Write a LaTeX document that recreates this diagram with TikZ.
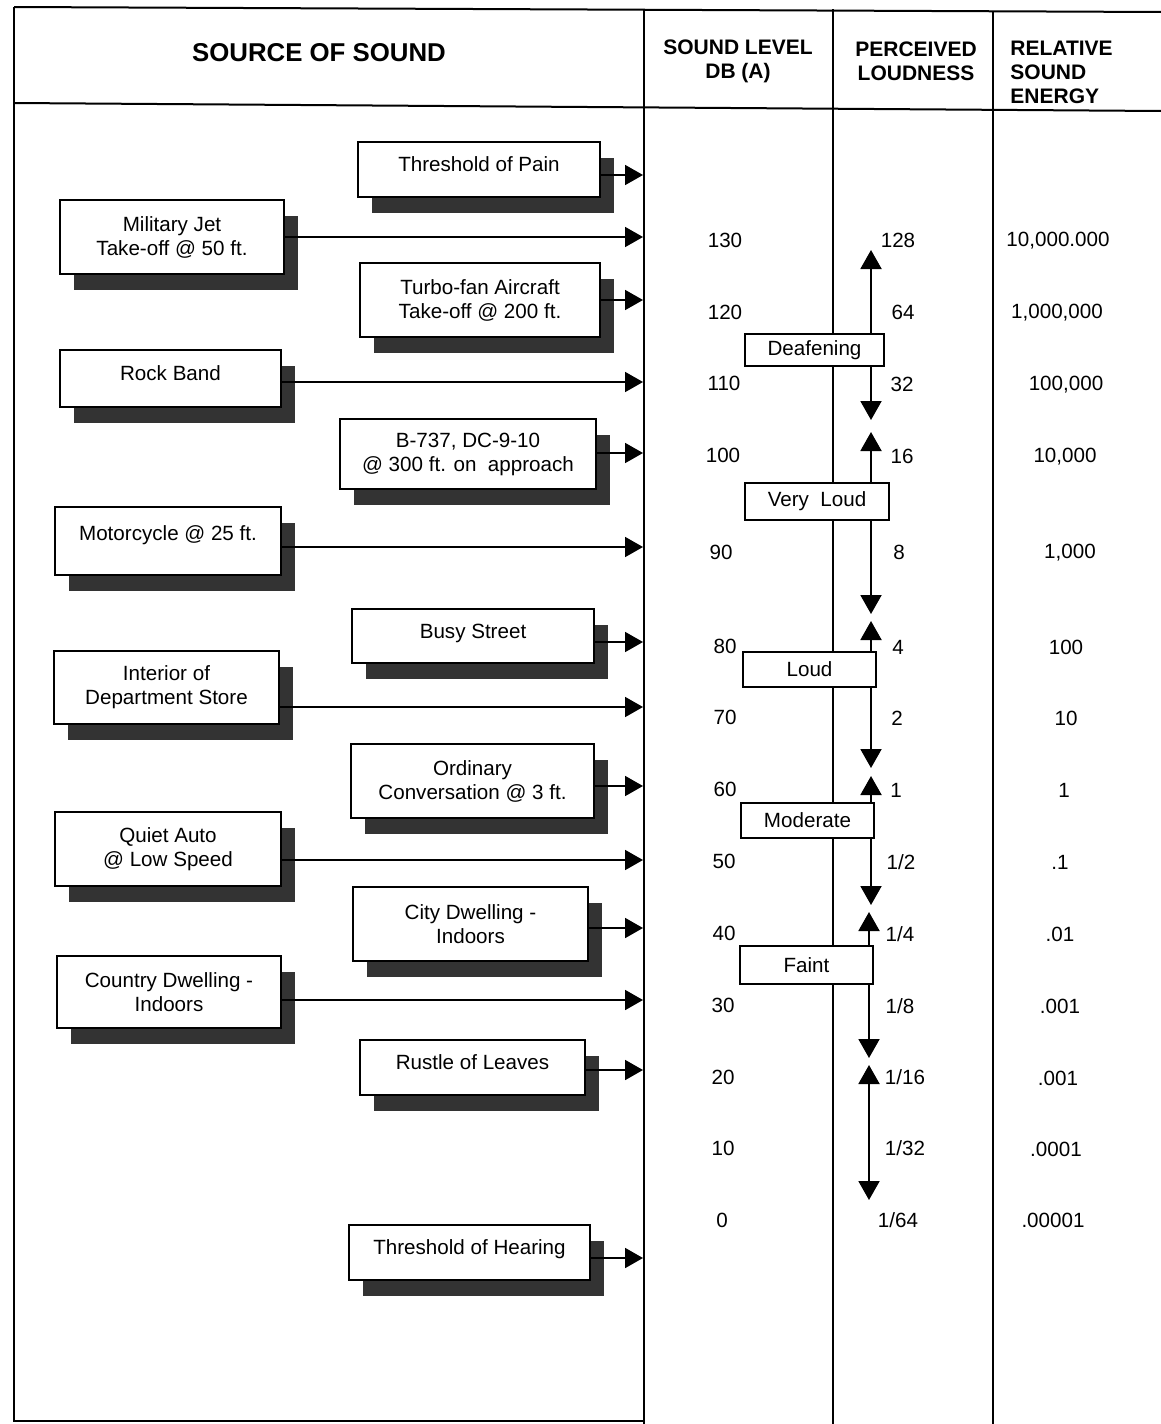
\documentclass[tikz,border=0pt]{standalone}
\usepackage{fontspec}
\setmainfont{Liberation Sans}
\usetikzlibrary{arrows.meta,shadows}
\newcommand{\boxfont}{\fontsize{10.3}{12}\selectfont}
\newcommand{\headfont}{\fontsize{10.5}{12}\selectfont\bfseries}

\begin{document}
\begin{tikzpicture}[x=0.5pt,y=-0.5pt,
  srcbox/.style={rectangle,draw=black,line width=0.8pt,fill=white,align=center,inner sep=0pt,font=\boxfont,
    drop shadow={shadow xshift=7pt,shadow yshift=-8pt,fill=black!80,opacity=1}},
  lift/.style={text depth=5pt},
  lvlbox/.style={rectangle,draw=black,line width=0.7pt,fill=white,inner sep=0pt,font=\boxfont},
  numtxt/.style={font=\boxfont,inner sep=0pt},
  feedarrow/.style={line width=0.9pt,-{Triangle[length=9pt,width=10pt]}},
  spanarrow/.style={line width=1pt,-{Triangle[length=9.5pt,width=10.5pt]}},
  frameline/.style={line width=1pt}]
\useasboundingbox (0,0) rectangle (1161,1424);
% frame and columns
\draw[frameline] (14,7) -- (1161,12);
\draw[frameline] (14,103) -- (1161,111);
\draw[frameline] (14,7) -- (14,1421) -- (644,1421);
\draw[frameline] (644,9) -- (644,1424);
\draw[frameline] (833,9) -- (833,1424);
\draw[frameline] (993,11) -- (993,1424);
% headings
\node[font=\fontsize{12.9}{15}\selectfont\bfseries] (hsrc) at (319,53) {SOURCE OF SOUND};
\node[font=\headfont,align=center,inner sep=0pt] (hlvl) at (738,61) {SOUND LEVEL\\DB (A)};
\node[font=\headfont,align=center,inner sep=0pt] (hpl) at (916,61) {PERCEIVED\\LOUDNESS};
\node[font=\headfont,align=left,anchor=west,inner sep=0pt] (hre) at (1010,72) {RELATIVE\\SOUND\\ENERGY};
% sources of sound
\node[srcbox,lift,minimum width=121pt,minimum height=27.5pt] (pain) at (479,169.5) {Threshold of Pain};
\node[srcbox,minimum width=112pt,minimum height=37pt] (jet) at (172,237) {Military Jet\\Take-off @ 50 ft.};
\node[srcbox,minimum width=120pt,minimum height=37pt] (turbo) at (480,300) {Turbo-fan Aircraft\\Take-off @ 200 ft.};
\node[srcbox,lift,minimum width=110.5pt,minimum height=28.5pt] (rock) at (170.5,378.5) {Rock Band};
\node[srcbox,minimum width=128pt,minimum height=35pt] (jetliner) at (468,454) {B-737, DC-9-10\\@ 300 ft. on~ approach};
\node[srcbox,text depth=8pt,minimum width=113pt,minimum height=34pt] (moto) at (168,541) {Motorcycle @ 25 ft.};
\node[srcbox,lift,minimum width=121pt,minimum height=27pt] (street) at (473,636) {Busy Street};
\node[srcbox,minimum width=112.5pt,minimum height=36.5pt] (store) at (166.5,687.5) {Interior of\\Department Store};
\node[srcbox,minimum width=121.5pt,minimum height=37pt] (talk) at (472.5,781) {Ordinary\\Conversation @ 3 ft.};
\node[srcbox,minimum width=113pt,minimum height=37pt] (auto) at (168,849) {Quiet Auto\\@ Low Speed};
\node[srcbox,minimum width=117.5pt,minimum height=37pt] (city) at (470.5,924) {City Dwelling -\\Indoors};
\node[srcbox,minimum width=112pt,minimum height=36pt] (country) at (169,992) {Country Dwelling -\\Indoors};
\node[srcbox,lift,minimum width=112.5pt,minimum height=27.5pt] (leaves) at (472.5,1067.5) {Rustle of Leaves};
\node[srcbox,lift,minimum width=120.5pt,minimum height=27.5pt] (hearing) at (469.5,1252.5) {Threshold of Hearing};
% arrow tips on the sound level column
\coordinate (tpain) at (643,175);
\coordinate (tjet) at (643,237);
\coordinate (tturbo) at (643,300);
\coordinate (trock) at (643,382);
\coordinate (tjetliner) at (643,453);
\coordinate (tmoto) at (643,547);
\coordinate (tstreet) at (643,642);
\coordinate (tstore) at (643,707);
\coordinate (ttalk) at (643,786);
\coordinate (tauto) at (643,860);
\coordinate (tcity) at (643,928);
\coordinate (tcountry) at (643,1000);
\coordinate (tleaves) at (643,1070);
\coordinate (thearing) at (643,1258);
\draw[feedarrow] (pain.east |- tpain) -- (tpain);
\draw[feedarrow] (jet.east |- tjet) -- (tjet);
\draw[feedarrow] (turbo.east |- tturbo) -- (tturbo);
\draw[feedarrow] (rock.east |- trock) -- (trock);
\draw[feedarrow] (jetliner.east |- tjetliner) -- (tjetliner);
\draw[feedarrow] (moto.east |- tmoto) -- (tmoto);
\draw[feedarrow] (street.east |- tstreet) -- (tstreet);
\draw[feedarrow] (store.east |- tstore) -- (tstore);
\draw[feedarrow] (talk.east |- ttalk) -- (ttalk);
\draw[feedarrow] (auto.east |- tauto) -- (tauto);
\draw[feedarrow] (city.east |- tcity) -- (tcity);
\draw[feedarrow] (country.east |- tcountry) -- (tcountry);
\draw[feedarrow] (leaves.east |- tleaves) -- (tleaves);
\draw[feedarrow] (hearing.east |- thearing) -- (thearing);
% sound level
\node[numtxt] (db130) at (725,240) {130};
\node[numtxt] (db120) at (725,312) {120};
\node[numtxt] (db110) at (724,383) {110};
\node[numtxt] (db100) at (723,455) {100};
\node[numtxt] (db90) at (721,552) {90};
\node[numtxt] (db80) at (725,646) {80};
\node[numtxt] (db70) at (725,717) {70};
\node[numtxt] (db60) at (725,789) {60};
\node[numtxt] (db50) at (724,861) {50};
\node[numtxt] (db40) at (724,933) {40};
\node[numtxt] (db30) at (723,1005) {30};
\node[numtxt] (db20) at (723,1077) {20};
\node[numtxt] (db10) at (723,1148) {10};
\node[numtxt] (db0) at (722,1220) {0};
% perceived loudness
\node[numtxt] (pl128) at (898,240) {128};
\node[numtxt] (pl64) at (903,312) {64};
\node[numtxt] (pl32) at (902,384) {32};
\node[numtxt] (pl16) at (902,456) {16};
\node[numtxt] (pl8) at (899,552) {8};
\node[numtxt] (pl4) at (898,647) {4};
\node[numtxt] (pl2) at (897,718) {2};
\node[numtxt] (pl1) at (896,790) {1};
\node[numtxt] (plhalf) at (901,862) {1/2};
\node[numtxt] (plquart) at (900,934) {1/4};
\node[numtxt] (pl8th) at (900,1006) {1/8};
\node[numtxt] (pl16th) at (905,1077) {1/16};
\node[numtxt] (pl32nd) at (905,1148) {1/32};
\node[numtxt] (pl64th) at (898,1220) {1/64};
% relative sound energy
\node[numtxt] (re130) at (1058,241) {10,000.000};
\node[numtxt] (re120) at (1057,313) {1,000,000};
\node[numtxt] (re110) at (1066,385) {100,000};
\node[numtxt] (re100) at (1065,457) {10,000};
\node[numtxt] (re90) at (1070,553) {1,000};
\node[numtxt] (re80) at (1066,647) {100};
\node[numtxt] (re70) at (1066,718) {10};
\node[numtxt] (re60) at (1064,790) {1};
\node[numtxt] (re50) at (1060,862) {.1};
\node[numtxt] (re40) at (1060,934) {.01};
\node[numtxt] (re30) at (1060,1006) {.001};
\node[numtxt] (re20) at (1058,1078) {.001};
\node[numtxt] (re10) at (1056,1149) {.0001};
\node[numtxt] (re0) at (1053,1220) {.00001};
% loudness bands
\node[lvlbox,minimum width=69.5pt,minimum height=16pt] (deaf) at (814.5,350) {Deafening};
\node[lvlbox,minimum width=72pt,minimum height=18.5pt] (vloud) at (817,501.5) {Very~ Loud};
\node[lvlbox,minimum width=66.5pt,minimum height=17.5pt] (loud) at (809.5,669.5) {Loud};
\node[lvlbox,minimum width=66.5pt,minimum height=17.5pt] (moderate) at (807.5,820.5) {Moderate};
\node[lvlbox,minimum width=66.5pt,minimum height=19pt] (faint) at (806.5,965) {Faint};
\coordinate (u1) at (871,250);
\coordinate (d1) at (871,420);
\coordinate (u2) at (871,432);
\coordinate (d2) at (871,614);
\coordinate (u3) at (871,621);
\coordinate (d3) at (871,768);
\coordinate (u4) at (871,776);
\coordinate (d4) at (871,905);
\coordinate (u5) at (869,912);
\coordinate (d5) at (869,1058);
\coordinate (u6) at (869,1065);
\coordinate (d6) at (869,1200);
\draw[spanarrow] (deaf.north -| u1) -- (u1);
\draw[spanarrow] (deaf.south -| d1) -- (d1);
\draw[spanarrow] (vloud.north -| u2) -- (u2);
\draw[spanarrow] (vloud.south -| d2) -- (d2);
\draw[spanarrow] (loud.north -| u3) -- (u3);
\draw[spanarrow] (loud.south -| d3) -- (d3);
\draw[spanarrow] (moderate.north -| u4) -- (u4);
\draw[spanarrow] (moderate.south -| d4) -- (d4);
\draw[spanarrow] (faint.north -| u5) -- (u5);
\draw[spanarrow] (faint.south -| d5) -- (d5);
\draw[line width=1pt,{Triangle[length=9.5pt,width=10.5pt]}-{Triangle[length=9.5pt,width=10.5pt]}] (u6) -- (d6);
\end{tikzpicture}
\end{document}
